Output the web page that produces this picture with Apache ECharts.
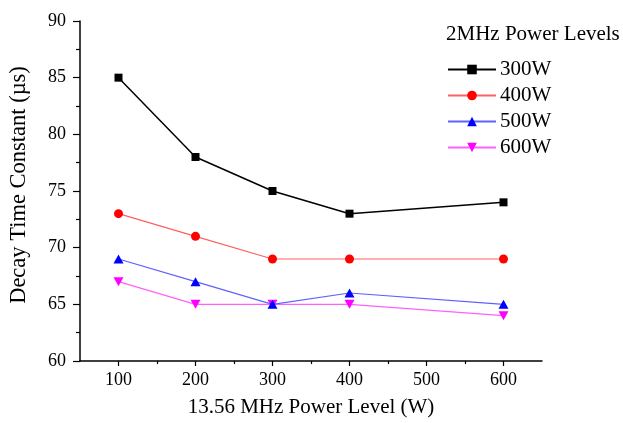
<!DOCTYPE html>
<html>
<head>
<meta charset="utf-8">
<script src="https://cdn.jsdelivr.net/npm/echarts@6/dist/echarts.min.js"></script>
<style>html,body{margin:0;padding:0;background:#fff}#c{width:623px;height:423px}</style>
</head>
<body>
<div id="c"></div>
<script>
const xValues = [100, 200, 300, 400, 600];
const seriesNames = ['300W', '400W', '500W', '600W'];
const s300 = [85, 78, 75, 73, 74];
const s400 = [73, 71, 69, 69, 69];
const s500 = [69, 67, 65, 66, 65];
const s600 = [67, 65, 65, 65, 64];
const xMajorTicks = [100, 200, 300, 400, 500, 600];
const xMinorTicks = [150, 250, 350, 450, 550];

const FONT = '"Liberation Serif", "Times New Roman", serif';
const colors = ['#000000', '#ff0000', '#0000ff', '#ff00ff'];
const lineColors = ['#000000', '#ff6060', '#6060ff', '#ff60ff'];
const symbols = ['rect', 'circle', 'triangle', 'path://M0,0 L10,0 L5,9 Z'];
const allData = [s300, s400, s500, s600];

const chart = echarts.init(document.getElementById('c'));
const axisBase = {
  type: 'value', min: 50, max: 650,
  splitLine: {show: false}
};
chart.setOption({
  backgroundColor: '#fff',
  animation: false,
  title: {
    text: '2MHz Power Levels', left: 441, top: 19,
    textStyle: {fontFamily: FONT, fontSize: 21, fontWeight: 'normal', color: '#000'}
  },
  legend: {
    orient: 'vertical', left: 442, top: 54,
    itemWidth: 48, itemHeight: 12, itemGap: 5,
    data: seriesNames,
    textStyle: {fontFamily: FONT, fontSize: 21, color: '#000', lineHeight: 21, padding: [0,0,0,-1]}
  },
  grid: {left: 79, right: 81, top: 21, bottom: 61, containLabel: false},
  xAxis: [
    Object.assign({}, axisBase, {
      name: '13.56 MHz Power Level (W)', nameLocation: 'middle', nameGap: 36,
      nameTextStyle: {fontFamily: FONT, fontSize: 21, color: '#000'},
      axisLine: {lineStyle: {color: '#000', width: 1.5}},
      axisTick: {show: true, customValues: xMajorTicks, length: 5, inside: false, lineStyle: {color: '#000', width: 1.2}},
      axisLabel: {customValues: xMajorTicks, margin: 10, fontFamily: FONT, fontSize: 18, color: '#000'}
    }),
    Object.assign({}, axisBase, {
      position: 'bottom',
      axisLine: {show: false},
      axisTick: {show: true, customValues: xMinorTicks, length: 3, lineStyle: {color: '#000', width: 1.2}},
      axisLabel: {show: false}
    })
  ],
  yAxis: {
    type: 'value', min: 60, max: 90, interval: 5,
    name: 'Decay Time Constant (\u00b5s)', nameLocation: 'middle', nameGap: 49,
    nameTextStyle: {fontFamily: FONT, fontSize: 22.5, color: '#000', padding: [0, 0, 0, 12]},
    splitLine: {show: false},
    axisLine: {show: true, lineStyle: {color: '#000', width: 1.5}},
    axisTick: {show: true, length: 7, lineStyle: {color: '#000', width: 1.2}},
    minorTick: {show: true, splitNumber: 2, length: 4, lineStyle: {color: '#000', width: 1.2}},
    axisLabel: {margin: 14, fontFamily: FONT, fontSize: 18, color: '#000'}
  },
  series: seriesNames.map((name, i) => ({
    name: name,
    type: 'line',
    xAxisIndex: 0,
    data: xValues.map((x, j) => [x, allData[i][j]]),
    symbol: symbols[i],
    symbolSize: i === 0 ? 8 : (i === 1 ? 9 : [10, 9]),
    showAllSymbol: true,
    itemStyle: {color: colors[i]},
    lineStyle: {color: lineColors[i], width: i === 0 ? 1.5 : 1.2},
    z: 10 - i
  }))
});
</script>
</body>
</html>
